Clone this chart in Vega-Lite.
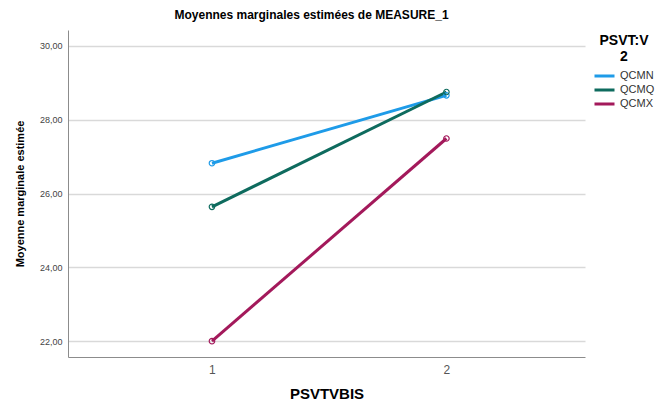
{
  "$schema": "https://vega.github.io/schema/vega-lite/v6.json",
  "width": 517,
  "height": 327,
  "autosize": "none",
  "padding": {"left": 68, "top": 30, "right": 70, "bottom": 46},
  "background": "white",
  "config": {
    "font": "Liberation Sans",
    "view": {"stroke": null}
  },
  "title": {
    "text": "Moyennes marginales estimées de MEASURE_1",
    "fontSize": 12,
    "fontWeight": "bold",
    "color": "#000000",
    "anchor": "middle",
    "dx": -15,
    "offset": 8
  },
  "data": {
    "values": [
      {"PSVTBIS": 1, "groupe": "QCMN", "moyenne": 26.82},
      {"PSVTBIS": 2, "groupe": "QCMN", "moyenne": 28.66},
      {"PSVTBIS": 1, "groupe": "QCMQ", "moyenne": 25.64},
      {"PSVTBIS": 2, "groupe": "QCMQ", "moyenne": 28.75},
      {"PSVTBIS": 1, "groupe": "QCMX", "moyenne": 22.0},
      {"PSVTBIS": 2, "groupe": "QCMX", "moyenne": 27.49}
    ]
  },
  "encoding": {
    "x": {
      "field": "PSVTBIS",
      "type": "quantitative",
      "scale": {"domain": [0.386, 2.591], "nice": false, "zero": false},
      "axis": {
        "title": "PSVTVBIS",
        "values": [1, 2],
        "format": "d",
        "grid": false,
        "ticks": false,
        "domainColor": "#8c8c8c",
        "labelFontSize": 12,
        "labelColor": "#555555",
        "labelPadding": 7,
        "titleFontSize": 15,
        "titleFontWeight": "bold",
        "titleColor": "#000000",
        "titlePadding": 11
      }
    },
    "y": {
      "field": "moyenne",
      "type": "quantitative",
      "scale": {"domain": [21.57, 30.43], "nice": false, "zero": false},
      "axis": {
        "title": "Moyenne marginale estimée",
        "values": [22, 24, 26, 28, 30],
        "labelExpr": "replace(format(datum.value, '.2f'), '.', ',')",
        "grid": true,
        "gridColor": "#d9d9d9",
        "gridWidth": 1.5,
        "ticks": false,
        "domainColor": "#8c8c8c",
        "labelFontSize": 9,
        "labelColor": "#444444",
        "labelPadding": 6,
        "titleFontSize": 11,
        "titleFontWeight": "bold",
        "titleColor": "#000000",
        "titlePadding": 14
      }
    },
    "color": {
      "field": "groupe",
      "type": "nominal",
      "scale": {
        "domain": ["QCMN", "QCMQ", "QCMX"],
        "range": ["#1e9be8", "#0e6b5e", "#a3195b"]
      },
      "legend": {
        "title": ["PSVT:V", "2"],
        "titleFontSize": 14,
        "titleFontWeight": "bold",
        "titleColor": "#000000",
        "titleAlign": "center",
        "titleAnchor": "middle",
        "titleLineHeight": 16,
        "titlePadding": 5,
        "orient": "none",
        "legendX": 525,
        "legendY": 4,
        "symbolType": "stroke",
        "symbolStrokeWidth": 3,
        "symbolSize": 400,
        "clipHeight": 14,
        "labelFontSize": 11,
        "labelColor": "#333333",
        "labelOffset": 4,
        "rowPadding": 0
      }
    }
  },
  "layer": [
    {"mark": {"type": "line", "strokeWidth": 3}},
    {"mark": {"type": "point", "filled": false, "size": 30, "strokeWidth": 1.2, "opacity": 1}}
  ]
}
